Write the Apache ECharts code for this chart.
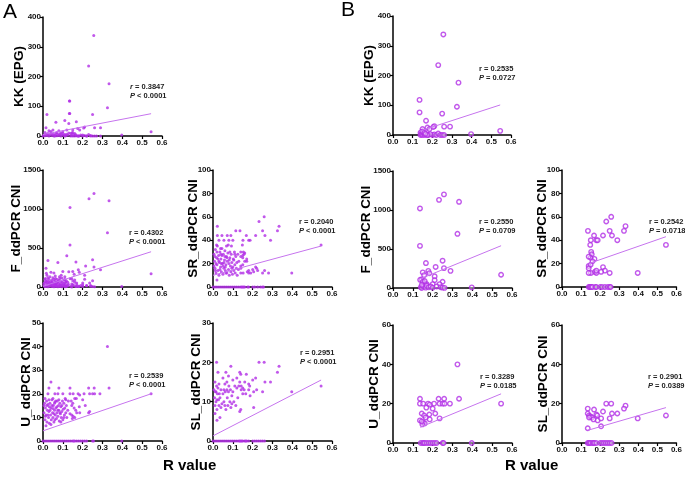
<!DOCTYPE html>
<html>
<head>
<meta charset="utf-8">
<title>R value correlations</title>
<script src="https://cdn.jsdelivr.net/npm/echarts@6/dist/echarts.min.js"></script>
<style>
  html, body { margin: 0; padding: 0; background: #fff; }
  #chart { width: 685px; height: 480px; }
</style>
</head>
<body>
<div id="chart"></div>
<script>
// ---- data read off the figure: [R value, measurement] ----
// panel B samples (R value >= 0.13), also included in panel A
const kkB = [[0.256,338],[0.23,235],[0.333,176],[0.135,118],[0.135,76],[0.325,95],[0.25,72],[0.168,48],[0.175,25],[0.21,30],[0.205,27],[0.26,28],[0.29,28],[0.185,20],[0.15,20],[0.145,10],[0.14,8],[0.397,3],[0.545,14],[0.14,0],[0.145,2],[0.15,0],[0.155,5],[0.16,0],[0.17,1],[0.18,0],[0.2,0],[0.21,2],[0.22,0],[0.23,5],[0.24,0],[0.25,0],[0.26,0],[0.15,12],[0.16,8],[0.19,3],[0.175,0],[0.165,4]];
const fB = [[0.257,1200],[0.232,1130],[0.333,1105],[0.136,1020],[0.325,695],[0.136,540],[0.25,350],[0.166,320],[0.215,270],[0.257,255],[0.29,220],[0.178,220],[0.183,190],[0.15,200],[0.157,165],[0.21,150],[0.21,100],[0.145,110],[0.137,105],[0.545,170],[0.397,8],[0.25,80],[0.235,50],[0.2,50],[0.17,50],[0.14,10],[0.145,0],[0.15,30],[0.155,20],[0.16,60],[0.165,5],[0.17,30],[0.18,10],[0.19,20],[0.2,5],[0.22,20],[0.24,10],[0.25,5],[0.26,2],[0.15,80],[0.145,40],[0.16,90]];
const srB = [[0.258,60],[0.232,56],[0.333,52],[0.325,48],[0.136,48],[0.25,48],[0.168,44],[0.215,44],[0.262,44],[0.151,40],[0.18,40],[0.187,40],[0.29,40],[0.148,36],[0.545,36],[0.153,30],[0.156,28],[0.15,25],[0.14,26],[0.17,24],[0.16,22],[0.14,18],[0.15,19],[0.215,17],[0.225,14],[0.14,16],[0.152,12],[0.173,13],[0.18,12],[0.205,13],[0.25,12],[0.397,12],[0.14,12],[0.18,14],[0.14,0],[0.145,0],[0.15,0],[0.155,0],[0.16,0],[0.175,0],[0.18,0],[0.2,0],[0.21,0],[0.225,0],[0.24,0],[0.25,0],[0.255,0]];
const uB = [[0.325,40],[0.136,22.5],[0.23,22.5],[0.258,22.5],[0.333,22.5],[0.136,20],[0.152,20],[0.177,20],[0.207,20],[0.235,20],[0.25,20],[0.26,20],[0.287,20],[0.185,19.5],[0.168,18],[0.2,17.5],[0.213,15],[0.145,15],[0.157,14],[0.183,14.5],[0.165,13],[0.185,12],[0.235,12.5],[0.136,11.5],[0.152,10.5],[0.16,10],[0.148,9.5],[0.145,11],[0.545,20],[0.14,0],[0.15,0],[0.155,0],[0.16,0],[0.17,0],[0.18,0],[0.19,0],[0.2,0],[0.21,0],[0.22,0],[0.25,0],[0.255,0],[0.397,0]];
const slB = [[0.232,20],[0.258,20],[0.333,19],[0.325,17.5],[0.135,17.5],[0.168,17],[0.215,16],[0.135,15],[0.262,15],[0.29,15],[0.18,14.5],[0.185,14],[0.142,14],[0.15,13.5],[0.157,13],[0.142,13],[0.25,12.5],[0.165,12],[0.187,11.5],[0.205,12.5],[0.397,12.5],[0.545,14],[0.135,7.5],[0.205,8.5],[0.135,0],[0.14,0],[0.145,0],[0.15,0],[0.16,0],[0.165,0],[0.17,0],[0.18,0],[0.2,0],[0.21,0],[0.22,0],[0.23,0],[0.24,0],[0.25,0],[0.26,0]];

// extra panel A samples (mostly R value < 0.13)
const kkLow = [[0.02,72],[0.015,28],[0.03,18],[0.065,46],[0.11,52],[0.133,118],[0.133,76],[0.13,42],[0.08,18],[0.12,20],[0,0],[0.005,3],[0.01,1],[0.015,5],[0.02,2],[0.025,8],[0.03,0],[0.035,4],[0.04,10],[0.045,2],[0.05,6],[0.055,0],[0.06,3],[0.065,9],[0.07,1],[0.075,5],[0.08,2],[0.085,7],[0.09,0],[0.095,4],[0.1,8],[0.105,2],[0.11,5],[0.115,1],[0.12,6],[0.125,3],[0.13,10],[0.01,12],[0.04,15],[0.07,12],[0.1,14],[0.05,20],[0.09,10],[0.02,6],[0.06,0],[0.11,0],[0.18,0],[0.2,3],[0.22,0],[0.24,2],[0.27,0],[0.29,0]];
const fLow = [[0.005,20],[0.01,60],[0.012,110],[0.015,240],[0.018,30],[0.02,150],[0.022,80],[0.025,340],[0.028,45],[0.03,100],[0.032,15],[0.035,130],[0.038,70],[0.04,190],[0.042,25],[0.045,90],[0.048,55],[0.05,120],[0.052,10],[0.055,180],[0.058,40],[0.06,75],[0.062,140],[0.065,20],[0.068,60],[0.07,100],[0.072,35],[0.075,315],[0.078,50],[0.08,85],[0.082,15],[0.085,110],[0.088,40],[0.09,70],[0.092,150],[0.095,25],[0.098,60],[0.1,200],[0.102,45],[0.105,90],[0.108,20],[0.11,130],[0.112,55],[0.115,30],[0.118,80],[0.12,400],[0.122,10],[0.125,60],[0.128,35],[0.13,195],[0.008,5],[0.015,8],[0.025,3],[0.035,12],[0.045,5],[0.055,2],[0.065,8],[0.075,4],[0.085,6],[0.095,3],[0.105,9],[0.115,4],[0.04,35],[0.02,55],[0.06,30],[0.01,95],[0.03,65],[0.05,40],[0.07,15],[0.09,25],[0.11,10],[0.017,175],[0.063,110],[0.083,130],[0.11,95],[0.2,30],[0.22,15],[0.24,20],[0.18,8],[0.17,5],[0.005,45],[0.015,70],[0.025,120],[0.035,40],[0.045,60],[0.055,95],[0.065,45],[0.075,70],[0.085,25],[0.095,115],[0.105,30],[0.115,65],[0.125,20]];
const srLow = [[0.022,52],[0.022,44],[0.045,44],[0.072,44],[0.03,40],[0.055,40],[0.08,40],[0.1,40],[0.115,48],[0.09,44],[0.077,36],[0.093,35],[0.02,6],[0.005,28],[0.008,22],[0.01,16],[0.012,32],[0.015,12],[0.018,25],[0.02,19],[0.022,35],[0.025,14],[0.028,27],[0.03,10],[0.032,21],[0.035,30],[0.038,17],[0.04,24],[0.042,13],[0.045,33],[0.048,20],[0.05,11],[0.052,28],[0.055,16],[0.058,23],[0.06,31],[0.062,14],[0.065,19],[0.068,26],[0.07,12],[0.072,22],[0.075,29],[0.078,15],[0.08,20],[0.082,10],[0.085,25],[0.088,18],[0.09,13],[0.092,28],[0.095,21],[0.098,11],[0.1,17],[0.102,24],[0.105,14],[0.108,30],[0.11,19],[0.112,12],[0.115,26],[0.118,16],[0.12,21],[0.122,10],[0.125,28],[0.128,15],[0.01,26],[0.02,30],[0.03,22],[0.04,28],[0.05,18],[0.06,26],[0.07,25],[0.015,20],[0.025,24],[0.035,15],[0.045,27],[0.055,21],[0.065,12],[0.085,30],[0.095,16],[0.105,23],[0.012,14],[0.042,20],[0.062,17],[0.082,23],[0.005,18],[0.018,36],[0.038,33],[0.068,35],[0.11,28],[0.13,22],[0.14,30],[0.15,27],[0.16,29],[0.17,22],[0.19,12],[0.2,15],[0.22,16],[0.28,12],[0.26,14],[0,0],[0.01,0],[0.02,0],[0.03,0],[0.04,0],[0.05,0],[0.06,0],[0.07,0],[0.08,0],[0.09,0],[0.1,0],[0.11,0],[0.12,0],[0.13,0]];
const uLow = [[0.04,25],[0.03,22.5],[0.08,22.5],[0.025,20],[0.06,20],[0.075,20],[0.1,20],[0.05,13.8],[0.005,12],[0.008,16],[0.01,9],[0.012,14],[0.015,11],[0.018,17],[0.02,8],[0.022,13],[0.025,15.5],[0.028,10],[0.03,12.5],[0.032,7.5],[0.035,16],[0.038,11],[0.04,14],[0.042,9],[0.045,17.5],[0.048,12],[0.05,10],[0.052,15],[0.055,8],[0.058,13],[0.06,16.5],[0.062,11],[0.065,14],[0.068,9.5],[0.07,12],[0.072,17],[0.075,10.5],[0.078,15],[0.08,13],[0.082,8.5],[0.085,16],[0.088,11.5],[0.09,14.5],[0.092,10],[0.095,12.5],[0.098,17],[0.1,9],[0.102,13.5],[0.105,16],[0.108,11],[0.11,14],[0.112,18],[0.115,12],[0.118,15],[0.12,10],[0.125,13],[0.128,17],[0.01,18],[0.02,15],[0.03,17.5],[0.04,7],[0.05,18],[0.06,9],[0.07,14.5],[0.08,17.5],[0.09,8],[0.015,6.5],[0.025,11],[0.035,13],[0.045,15],[0.055,11.5],[0.065,17],[0.075,13],[0.085,12],[0.095,15],[0.105,10],[0.115,17.5],[0.005,15],[0.012,10.5],[0.032,14.5],[0.058,16],[0.142,17],[0.15,16],[0.16,18],[0.17,12],[0.23,12],[0,0],[0.01,0],[0.02,0],[0.03,0],[0.04,0],[0.05,0],[0.06,0],[0.07,0],[0.08,0],[0.09,0],[0.1,0],[0.11,0],[0.12,0],[0.13,0]];
const slLow = [[0.018,20],[0.025,17.5],[0.065,17.5],[0.09,19],[0.078,16.5],[0.02,5.3],[0.035,6],[0.005,13],[0.008,11],[0.01,9],[0.012,12.5],[0.015,10],[0.018,14],[0.02,8],[0.022,12],[0.025,13.5],[0.028,10.5],[0.03,9],[0.032,12],[0.035,11],[0.04,13],[0.045,9.5],[0.05,12],[0.055,10],[0.06,14.5],[0.062,12.5],[0.065,8],[0.07,13],[0.072,11],[0.075,9],[0.078,12.5],[0.08,14],[0.085,10],[0.088,13],[0.09,8.5],[0.095,11.5],[0.1,12.5],[0.105,10],[0.11,14],[0.115,9],[0.12,13.5],[0.125,11],[0.01,15],[0.03,14.5],[0.05,16],[0.07,15],[0.1,15.5],[0.01,7],[0.04,8.5],[0.06,9],[0.02,10.5],[0.015,12.5],[0.055,13],[0.095,9.5],[0.12,16],[0.13,14],[0.14,17],[0.15,12],[0.16,15],[0.18,13],[0.2,15.5],[0.22,13],[0.14,8],[0,0],[0.01,0],[0.02,0],[0.03,0],[0.04,0],[0.05,0],[0.06,0],[0.07,0],[0.08,0],[0.09,0],[0.1,0],[0.11,0],[0.12,0],[0.13,0]];

// regression line end points [R value, fitted value]
const fitKkA = [[0, 5], [0.545, 75]];
const fitFA = [[0, 9], [0.545, 452]];
const fitSrA = [[0, 10], [0.545, 35]];
const fitUA = [[0, 4.3], [0.545, 20]];
const fitSlA = [[0, 1.3], [0.545, 15.5]];
const fitKkB = [[0.135, 13], [0.545, 101]];
const fitFB = [[0.14, 120], [0.545, 542]];
const fitSrB = [[0.14, 20], [0.545, 43]];
const fitUB = [[0.137, 8], [0.545, 25]];
const fitSlB = [[0.137, 6.5], [0.545, 18]];

// axis titles and stats
const yNames = ['KK (EPG)', 'F_ddPCR CNI', 'SR_ddPCR CNI', 'U_ddPCR CNI', 'SL_ddPCR CNI'];
const rValues = ['0.3847', '0.4302', '0.2040', '0.2539', '0.2951', '0.2535', '0.2550', '0.2542', '0.3289', '0.2901'];
const pValues = ['< 0.0001', '< 0.0001', '< 0.0001', '< 0.0001', '< 0.0001', '= 0.0727', '= 0.0709', '= 0.0718', '= 0.0185', '= 0.0389'];

document.addEventListener('DOMContentLoaded', function() {
    const FONT = 'Arial, "Liberation Sans", Helvetica, sans-serif';
    const PURPLE = '#b22ee6';
    const LINE = '#c674ee';

    // panel layout (pixels)
    const panels = [
        { left: 43, top: 17, width: 119, height: 119, yMax: 400, yStep: 100, name: 0, gap: 17, data: kkLow.concat(kkB), fit: fitKkA, open: false, tx: 130, ty: 82 },
        { left: 43, top: 170, width: 119, height: 117, yMax: 1500, yStep: 500, name: 1, gap: 20, data: fLow.concat(fB), fit: fitFA, open: false, tx: 129, ty: 228 },
        { left: 213, top: 170, width: 119, height: 117, yMax: 100, yStep: 20, name: 2, gap: 13, data: srLow.concat(srB), fit: fitSrA, open: false, tx: 299, ty: 217 },
        { left: 43, top: 323, width: 119, height: 118, yMax: 50, yStep: 10, name: 3, gap: 10, data: uLow.concat(uB), fit: fitUA, open: false, tx: 129, ty: 371 },
        { left: 213, top: 323, width: 119, height: 118, yMax: 30, yStep: 10, name: 4, gap: 10, data: slLow.concat(slB), fit: fitSlA, open: false, tx: 300, ty: 348 },
        { left: 393, top: 16, width: 118, height: 119, yMax: 400, yStep: 100, name: 0, gap: 17, data: kkB, fit: fitKkB, open: true, tx: 479, ty: 64 },
        { left: 393, top: 171, width: 119, height: 117, yMax: 1500, yStep: 500, name: 1, gap: 20, data: fB, fit: fitFB, open: true, tx: 479, ty: 217 },
        { left: 562, top: 170, width: 118, height: 117, yMax: 100, yStep: 20, name: 2, gap: 13, data: srB, fit: fitSrB, open: true, tx: 649, ty: 217 },
        { left: 393, top: 325, width: 119, height: 118, yMax: 60, yStep: 20, name: 3, gap: 12, data: uB, fit: fitUB, open: true, tx: 480, ty: 372 },
        { left: 562, top: 325, width: 118, height: 118, yMax: 60, yStep: 20, name: 4, gap: 12, data: slB, fit: fitSlB, open: true, tx: 648, ty: 372 }
    ];

    const axisLine = { lineStyle: { color: '#000', width: 1.5 } };
    const axisTick = { length: 3, lineStyle: { color: '#000', width: 1.2 } };
    const tickLabel = { fontSize: 8, fontWeight: 'bold', color: '#111', fontFamily: FONT };

    const grid = [], xAxis = [], yAxis = [], series = [], graphic = [];

    panels.forEach((p, i) => {
        grid.push({ left: p.left, top: p.top, width: p.width, height: p.height });
        xAxis.push({
            type: 'value', gridIndex: i, min: 0, max: 0.6, interval: 0.1,
            splitLine: { show: false }, axisLine: axisLine, axisTick: axisTick,
            axisLabel: Object.assign({ margin: 3, formatter: v => v.toFixed(1) }, tickLabel)
        });
        yAxis.push({
            type: 'value', gridIndex: i, min: 0, max: p.yMax, interval: p.yStep,
            splitLine: { show: false }, axisLine: axisLine, axisTick: axisTick,
            axisLabel: Object.assign({ margin: 2, formatter: v => String(v) }, tickLabel),
            name: yNames[p.name], nameLocation: 'middle', nameGap: p.gap, nameMoveOverlap: false,
            nameTextStyle: { fontSize: 13.5, fontWeight: 'bold', color: '#000', fontFamily: FONT }
        });
        // the dots
        series.push({
            type: 'scatter', xAxisIndex: i, yAxisIndex: i, data: p.data,
            symbol: 'circle', symbolSize: p.open ? 4.5 : 3, silent: true,
            itemStyle: p.open
                ? { color: 'rgba(255,255,255,0.5)', borderColor: PURPLE, borderWidth: 1.4 }
                : { color: PURPLE }
        });
        // regression line
        series.push({
            type: 'line', xAxisIndex: i, yAxisIndex: i, data: p.fit,
            showSymbol: false, silent: true, z: 3,
            lineStyle: { color: LINE, width: 1 }
        });
        // r and P annotation
        graphic.push({
            type: 'text', left: p.tx, top: p.ty,
            style: {
                text: (i === 0 ? '{i|r}' : 'r') + ' = ' + rValues[i] + '\n{i|P} ' + pValues[i],
                fontSize: 7.5, fontWeight: 'bold', fill: '#222', fontFamily: FONT, lineHeight: 9,
                rich: { i: { fontStyle: 'italic', fontSize: 7.5, fontWeight: 'bold', fontFamily: FONT } }
            }
        });
    });

    // panel letters and shared x labels
    graphic.push({ type: 'text', left: 3, top: 2, style: { text: 'A', fontSize: 21, fill: '#000', fontFamily: FONT } });
    graphic.push({ type: 'text', left: 341, top: 0, style: { text: 'B', fontSize: 21, fill: '#000', fontFamily: FONT } });
    graphic.push({ type: 'text', left: 163, top: 458, style: { text: 'R value', fontSize: 15, fontWeight: 'bold', fill: '#000', fontFamily: FONT } });
    graphic.push({ type: 'text', left: 505, top: 458, style: { text: 'R value', fontSize: 15, fontWeight: 'bold', fill: '#000', fontFamily: FONT } });

    const chart = echarts.init(document.getElementById('chart'));
    chart.setOption({
        animation: false,
        textStyle: { fontFamily: FONT },
        grid: grid, xAxis: xAxis, yAxis: yAxis, series: series, graphic: graphic
    });
});
</script>
</body>
</html>
